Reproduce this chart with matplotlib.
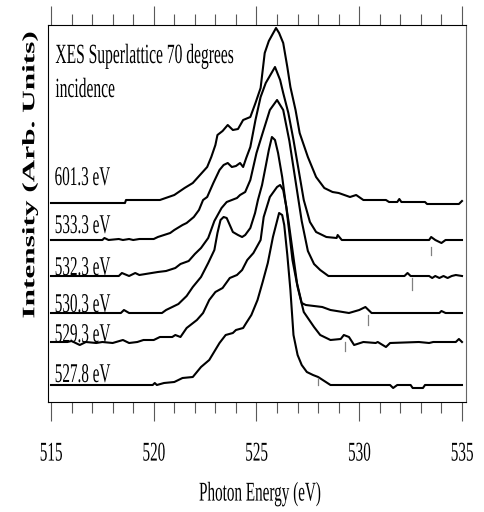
import numpy as np
import matplotlib
matplotlib.use('Agg')
import matplotlib.pyplot as plt
from matplotlib import patheffects
from matplotlib.transforms import Affine2D

# spectra: photon energy (eV) and intensity above each baseline
E_601 = [515.0, 518.6, 518.65, 520.3, 521.0, 521.5, 521.9, 522.25, 522.6, 522.8, 523.0, 523.1,
         523.35, 523.6, 523.85, 524.1, 524.35, 524.7, 524.95, 525.2, 525.4, 525.6, 525.95, 526.1,
         526.3, 526.5, 526.65, 526.9, 527.1, 527.5, 527.9, 528.3, 528.7, 529.0, 529.55, 529.85,
         530.2, 531.3, 531.45, 531.85, 531.95, 532.05, 533.2, 533.3, 534.85, 535.0]
I_601 = [0, 0, 3, 3, 8, 15, 20, 28, 36, 46, 58, 68,
         72, 78, 73, 74, 83, 86, 100, 115, 150, 162, 175, 170,
         160, 136, 116, 93, 70, 46, 26, 15, 11, 10, 6, 8,
         3, 3, 1, 1, 4, 1, 1, -1, -1, 2]

E_5333 = [515.0, 517.5, 517.6, 517.8, 518.3, 518.5, 518.8, 519.0, 519.3, 520.0, 520.2, 520.5,
          520.8, 521.0, 521.4, 521.6, 521.95, 522.2, 522.4, 522.6, 522.9, 523.2, 523.4, 523.6,
          523.8, 524.0, 524.2, 524.35, 524.5, 524.7, 524.95, 525.2, 525.45, 525.9, 526.15, 526.3,
          526.55, 526.8, 527.05, 527.3, 527.6, 527.9, 528.4, 528.9, 528.95, 529.15, 533.4, 533.5,
          533.7, 534.0, 534.2, 535.0]
I_5333 = [0, 0, 2, 0, 1, 0, 1, 0, 1, 1, 3, 5,
          7, 10, 15, 17, 23, 30, 40, 43, 57, 70, 75, 77,
          73, 74, 77, 73, 82, 93, 120, 143, 157, 173, 160, 147,
          127, 100, 70, 40, 18, 8, 3, 2, 5, 0, 0, 3,
          0, -3, 0, 0]

E_5323 = [515.0, 518.3, 518.45, 518.8, 519.1, 519.3, 520.2, 520.6, 521.05, 521.3, 521.7, 522.0,
          522.3, 522.65, 522.95, 523.3, 523.55, 523.8, 524.05, 524.2, 524.45, 524.7, 525.0, 525.3,
          525.65, 526.0, 526.3, 526.6, 526.9, 527.2, 527.5, 527.8, 528.1, 528.5, 532.2, 532.35,
          532.5, 533.4, 533.55, 533.7, 533.9, 534.1, 534.3, 534.5, 534.7, 535.0]
I_5323 = [0, 0, 3, 0, 3, 1, 4, 5, 8, 12, 15, 22,
          28, 38, 55, 68, 74, 76, 78, 81, 84, 96, 123, 143,
          166, 176, 166, 135, 95, 55, 25, 12, 6, 0, 0, 3,
          0, 0, -2, 0, -2, 0, -2, 0, 1, 0]

E_5303 = [515.0, 518.4, 518.55, 518.8, 520.4, 520.6, 520.9, 521.2, 521.6, 521.9, 522.3, 522.65,
          522.95, 523.1, 523.25, 523.4, 523.55, 523.7, 523.85, 524.1, 524.3, 524.45, 524.7, 524.93,
          525.07, 525.27, 525.46, 525.6, 525.75, 525.9, 526.05, 526.25, 526.4, 526.55, 526.75, 526.97,
          527.2, 527.4, 528.2, 528.6, 529.5, 530.0, 530.3, 530.6, 533.9, 534.0, 534.2, 535.0]
I_5303 = [0, 0, 3, 0, 0, 3, 6, 9, 17, 26, 36, 50,
          63, 80, 93, 96, 95, 88, 81, 78, 76, 78, 85, 100,
          113, 128, 148, 163, 176, 173, 160, 136, 113, 93, 63, 30,
          10, 8, 6, 3, 0, 3, 6, 0, 0, 2, 0, 0]

E_5293 = [515.0, 515.8, 516.0, 516.4, 516.7, 517.2, 517.5, 518.0, 518.5, 518.8, 519.2, 519.5,
          520.0, 520.3, 520.9, 521.05, 521.3, 521.6, 522.1, 522.4, 522.7, 523.0, 523.35, 523.7,
          524.05, 524.3, 524.55, 524.85, 525.2, 525.35, 525.65, 526.0, 526.15, 526.3, 526.45, 526.6,
          526.75, 527.0, 527.3, 527.5, 527.8, 528.1, 528.6, 529.1, 529.25, 529.5, 529.75, 530.05,
          530.2, 530.8, 530.9, 531.3, 531.5, 532.9, 533.4, 533.6, 534.7, 534.85, 535.0]
I_5293 = [0, 0, 1, -3, 0, -1, 0, -1, 2, -1, 0, 2,
          2, 5, 5, 7, 5, 14, 22, 29, 42, 50, 54, 64,
          67, 72, 82, 89, 102, 125, 145, 155, 157, 152, 135, 109,
          82, 55, 30, 24, 15, 7, 2, 3, 7, 5, -3, -1,
          0, -1, 0, -5, -1, 0, -1, 0, 0, 3, 0]

E_5278 = [515.0, 519.95, 520.05, 520.15, 520.5, 521.0, 521.4, 521.9, 522.1, 522.3, 522.7, 523.2,
          523.5, 523.85, 524.0, 524.35, 524.5, 524.75, 525.05, 525.3, 525.55, 525.8, 526.1, 526.25,
          526.35, 526.5, 526.65, 526.8, 527.0, 527.2, 527.45, 527.75, 528.0, 528.3, 528.6, 531.5,
          531.65, 531.85, 532.5, 532.6, 533.1, 533.2, 535.0]
I_5278 = [0, 0, 2, 0, 2, 3, 7, 8, 13, 18, 25, 42,
          50, 52, 55, 57, 62, 70, 85, 103, 122, 148, 172, 170,
          160, 130, 95, 50, 30, 20, 13, 10, 8, 4, 0, 0,
          -3, 0, 0, -3, -3, 0, 0]

energies = [E_601, E_5333, E_5323, E_5303, E_5293, E_5278]
intensities = [I_601, I_5333, I_5323, I_5303, I_5293, I_5278]
offsets = [199, 162, 126, 89, 60, 17]
labels = ['601.3 eV', '533.3 eV', '532.3 eV', '530.3 eV', '529.3 eV', '527.8 eV']
label_y = [217, 169, 127, 90, 60, 20]

# little grey marks under the curves, excitation energy as drawn
mark_E = [533.5, 532.55, 530.45, 529.3, 528.0]
mark_top = [-7, -2, -2, 0, 7]
mark_len = [8, 12, 10, 9, 7]

xticks = [515, 520, 525, 530, 535]
xtick_labels = ['515', '520', '525', '530', '535']

SQUASH = 0.56


class Narrow(patheffects.AbstractPathEffect):
    # the original scan is squashed sideways, so its lettering is too
    def __init__(self, sx=SQUASH, anchor='center'):
        super().__init__()
        self.sx = sx
        self.anchor = anchor

    def draw_path(self, renderer, gc, tpath, affine, rgbFace=None):
        box = tpath.get_extents(affine)
        x0 = box.x0 if self.anchor == 'left' else 0.5 * (box.x0 + box.x1)
        squash = Affine2D().translate(-x0, 0).scale(self.sx, 1).translate(x0, 0)
        renderer.draw_path(gc, tpath, affine + squash, rgbFace)


def main():
    plt.rcParams['font.family'] = ['Liberation Serif', 'DejaVu Serif']
    fig = plt.figure(figsize=(4.84, 5.12), dpi=100)
    ax = fig.add_axes([48 / 484, 1 - 402 / 512, 418 / 484, 377 / 512])

    for E, I, off in zip(energies, intensities, offsets):
        ax.plot(E, np.array(I) + off, color='black', linewidth=1.5, solid_joinstyle='round')

    for k, e in enumerate(mark_E):
        top = offsets[k + 1] + mark_top[k]
        ax.plot([e, e], [top, top - mark_len[k]], color='0.5', linewidth=0.9)

    for lab, y in zip(labels, label_y):
        ax.text(515.15, y, lab, fontsize=19.5, va='baseline', ha='left',
                path_effects=[Narrow(anchor='left')])

    ax.text(515.2, 339, 'XES Superlattice 70 degrees', fontsize=20, va='baseline',
            path_effects=[Narrow(anchor='left')])
    ax.text(515.2, 305, 'incidence', fontsize=20, va='baseline',
            path_effects=[Narrow(anchor='left')])

    ax.set_xlim(514.854, 535.195)
    ax.set_ylim(0, 377)
    ax.set_yticks([])
    ax.set_xticks(xticks)
    ax.set_xticklabels(xtick_labels, fontsize=19.5)
    ax.set_xticks(np.arange(515, 536, 1), minor=True)
    ax.tick_params(axis='x', which='both', direction='out', top=True, bottom=True,
                   labeltop=False, color='0.35', width=0.8)
    ax.tick_params(axis='x', which='major', length=13.5, pad=15)
    ax.tick_params(axis='x', which='minor', length=8)
    for lab in ax.get_xticklabels():
        lab.set_path_effects([Narrow()])
    for side in ['left', 'right', 'top', 'bottom']:
        ax.spines[side].set_linewidth(0.8)
    ax.spines['right'].set_color('0.4')

    fig.text(30 / 484, 1 - 175 / 512, 'Intensity (Arb. Units)', rotation=90, fontsize=22.5,
             fontweight='bold', ha='center', va='center', path_effects=[Narrow()])
    fig.text(260 / 484, 1 - 494 / 512, 'Photon Energy (eV)', fontsize=19.5,
             ha='center', va='center', path_effects=[Narrow()])

    fig.savefig('out.png', dpi=100)


main()
